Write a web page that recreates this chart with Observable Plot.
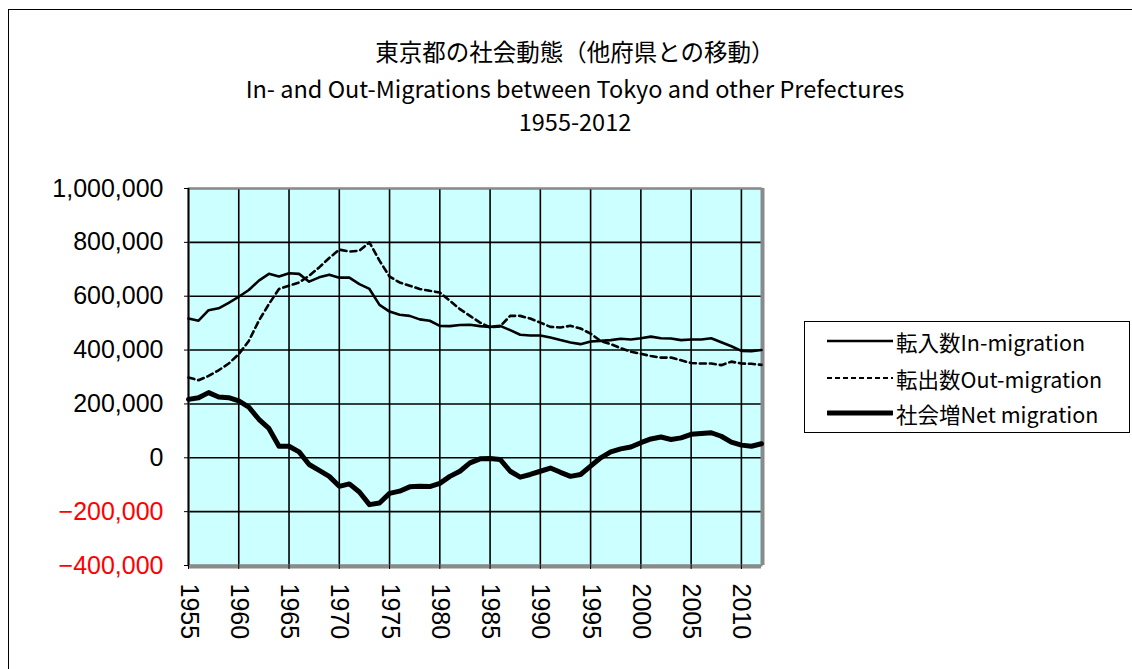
<!DOCTYPE html>
<html><head><meta charset="utf-8">
<script src="https://cdn.jsdelivr.net/npm/d3@7"></script>
<script src="https://cdn.jsdelivr.net/npm/@observablehq/plot@0.6"></script>
<style>
html,body{margin:0;padding:0;background:#fff}
body{width:1132px;height:669px;overflow:hidden;position:relative;font-family:"Liberation Sans",Arial,sans-serif}
#frame{position:absolute;left:8px;top:9px;width:1300px;height:900px;border:1.5px solid #000;box-sizing:border-box}
#chart{position:absolute;left:0;top:0}
.t{position:absolute;left:0;width:1150px;text-align:center;color:#000;white-space:nowrap;font-family:"Noto Sans CJK JP",sans-serif;line-height:24px}
#t1{top:39px;font-size:23.5px}
#t2{top:76px;font-size:23.5px}
#t3{top:109px;font-size:23.5px}
#legend{position:absolute;left:804px;top:321px;width:326px;height:112px;border:1.5px solid #000;box-sizing:border-box;background:#fff}
.row{position:absolute;left:22px;height:26px;display:flex;align-items:center;font-family:"Noto Sans CJK JP",sans-serif;font-size:21.5px;white-space:nowrap}
.row svg{margin-right:3px}
</style></head>
<body>
<div id="frame"></div>
<div id="chart"></div>
<div class="t" id="t1">東京都の社会動態（他府県との移動）</div>
<div class="t" id="t2">In- and Out-Migrations between Tokyo and other Prefectures</div>
<div class="t" id="t3">1955-2012</div>
<div id="legend">
  <div class="row" style="top:6px"><svg width="66" height="6"><line x1="0" y1="3" x2="66" y2="3" stroke="#000" stroke-width="2.5"/></svg>転入数In-migration</div>
  <div class="row" style="top:43px"><svg width="66" height="6"><line x1="0" y1="3" x2="66" y2="3" stroke="#000" stroke-width="2" stroke-dasharray="5,3"/></svg>転出数Out-migration</div>
  <div class="row" style="top:78px"><svg width="66" height="8"><line x1="1" y1="4" x2="65" y2="4" stroke="#000" stroke-width="5" stroke-linecap="round"/></svg>社会増Net migration</div>
</div>
<script>
const years = [1955,1956,1957,1958,1959,1960,1961,1962,1963,1964,1965,1966,1967,1968,1969,1970,1971,1972,1973,1974,1975,1976,1977,1978,1979,1980,1981,1982,1983,1984,1985,1986,1987,1988,1989,1990,1991,1992,1993,1994,1995,1996,1997,1998,1999,2000,2001,2002,2003,2004,2005,2006,2007,2008,2009,2010,2011,2012];
// thousands of persons
const inMigration = [517,509,548,555,575,598,623,658,683,673,685,683,654,670,680,669,669,645,627,568,543,531,527,514,509,490,489,493,494,489,486,490,474,457,454,454,447,437,428,422,432,434,437,442,439,444,450,444,443,437,439,439,444,429,414,397,396,400];
const outMigration = [298,288,304,325,350,385,434,509,571,627,639,651,676,707,742,773,766,769,800,732,673,651,639,627,620,614,583,552,527,502,484,488,527,527,517,502,486,484,490,480,461,434,422,407,394,386,378,372,372,362,352,350,350,344,357,350,349,345];
const netMigration = [217,223,242,226,223,211,188,143,109,43,43,22,-25,-47,-69,-106,-97,-127,-174,-168,-132,-124,-108,-106,-107,-95,-69,-50,-19,-4,-3,-6,-50,-72,-62,-50,-38,-54,-69,-62,-31,0,22,33,40,56,70,77,68,74,87,90,93,80,58,47,43,52];
const yTicksPos = [0,200000,400000,600000,800000,1000000];
const yTicksNeg = [-400000,-200000];
const xTicks = [1955,1960,1965,1970,1975,1980,1985,1990,1995,2000,2005,2010];

const rows = years.map((y,i)=>({year:y, inM:inMigration[i]*1000, outM:outMigration[i]*1000, net:netMigration[i]*1000}));
const fmt = d => (d<0?"\u2212":"") + d3.format(",")(Math.abs(d));

const chart = Plot.plot({
  width:1132, height:669,
  marginLeft:188, marginRight:371, marginTop:188, marginBottom:104,
  style:{fontFamily:"Liberation Sans, Arial, sans-serif", background:"transparent", overflow:"visible"},
  x:{domain:[1955,2012], axis:null},
  y:{domain:[-400000,1000000], axis:null},
  marks:[
    Plot.frame({fill:"#ccffff", stroke:"none"}),
    Plot.gridX(xTicks, {stroke:"#000", strokeOpacity:1, strokeWidth:1.6}),
    Plot.gridY([...yTicksNeg, ...yTicksPos], {stroke:"#000", strokeOpacity:1, strokeWidth:1.6}),
    Plot.frame({stroke:"#8a8a8a", strokeWidth:2}),
    Plot.ruleX([2012], {stroke:"#8a8a8a", strokeWidth:3, dx:1.5}),
    Plot.ruleY([-400000], {stroke:"#8a8a8a", strokeWidth:3, dy:1.5}),
    Plot.ruleX([1955], {stroke:"#000", strokeWidth:1.6}),
    Plot.line(rows, {x:"year", y:"inM", stroke:"#000", strokeWidth:2.6}),
    Plot.line(rows, {x:"year", y:"outM", stroke:"#000", strokeWidth:2.6, strokeDasharray:"6,4"}),
    Plot.line(rows, {x:"year", y:"net", stroke:"#000", strokeWidth:5, strokeLinejoin:"round"}),
    Plot.axisY(yTicksPos, {tickSize:4, tickPadding:21, fontSize:25, fill:"#000", tickFormat:fmt, label:null}),
    Plot.axisY(yTicksNeg, {tickSize:4, tickPadding:21, fontSize:25, fill:"#ff0000", tickFormat:fmt, label:null}),
    Plot.axisX(xTicks, {tickSize:4, tickPadding:14, fontSize:25, tickRotate:90, tickFormat:d=>String(d), label:null})
  ]
});
document.getElementById("chart").appendChild(chart);
</script>
</body></html>
